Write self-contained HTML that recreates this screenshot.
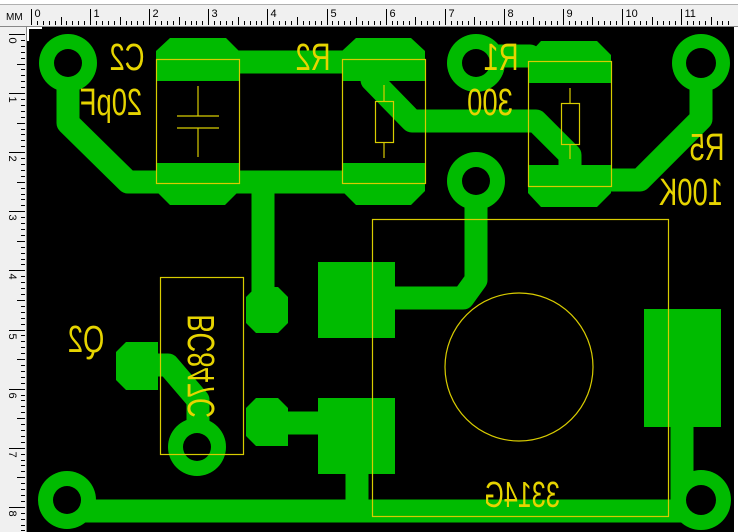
<!DOCTYPE html>
<html><head><meta charset="utf-8"><style>
html,body{margin:0;padding:0;background:#f0f0f0;}
svg{display:block;}
</style></head><body>
<svg id="s" width="738" height="532" viewBox="0 0 738 532" xmlns="http://www.w3.org/2000/svg" font-family="Liberation Sans, sans-serif">
<rect x="0" y="0" width="738" height="532" fill="#f0f0f0"/>
<rect x="0" y="0" width="738" height="4" fill="#ffffff"/>
<line x1="0" y1="4.5" x2="738" y2="4.5" stroke="#b0b0b0"/>
<line x1="0" y1="26.5" x2="738" y2="26.5" stroke="#888"/>
<line x1="26.5" y1="27" x2="26.5" y2="532" stroke="#888"/>
<text x="6" y="20" font-size="10" fill="#000">MM</text>
<g id="ticks" stroke="#000" stroke-width="1"></g>
<g id="rl" font-size="11" fill="#000"></g>
<!-- board -->
<rect x="27" y="27" width="707" height="505" fill="#000"/>
<rect x="734" y="27" width="4" height="505" fill="#fff"/>
<path d="M28 41 V28 H42" stroke="#fff" stroke-width="2" fill="none"/>
<g fill="#00bb00" stroke="none">
 <g stroke="#00bb00" stroke-width="23" fill="none" stroke-linejoin="round" stroke-linecap="round">
  <polyline points="68,63 68,123 128,182 400,182"/>
  <line x1="238" y1="62" x2="342" y2="62"/>
  <line x1="263" y1="182" x2="263" y2="300"/>
  <polyline points="372,80 412,121 536,121 570,155 570,176"/>
  <line x1="476" y1="56" x2="530" y2="56"/>
  <polyline points="600,180 640,180 701,119 701,63"/>
  <polyline points="476,181 476,280 463,298 395,298"/>
  <line x1="280" y1="423" x2="330" y2="423"/>
  <polyline points="150,365 168,365 198,400 198,447"/>
  <line x1="67" y1="511" x2="700" y2="511"/>
  <line x1="357" y1="474" x2="357" y2="505"/>
  <line x1="682" y1="427" x2="682" y2="500"/>
 </g>
 <circle cx="68" cy="63" r="29"/>
 <circle cx="476" cy="63" r="29"/>
 <circle cx="701" cy="63" r="29"/>
 <circle cx="476" cy="181" r="29"/>
 <circle cx="197" cy="447" r="29"/>
 <circle cx="67" cy="500" r="29"/>
 <circle cx="701" cy="500" r="30"/>
 <polygon points="170,38 226,38 239,51 239,81 156,81 156,51"/>
 <polygon points="156,163 239,163 239,191 225,205 170,205 156,191"/>
 <polygon points="356,38 411,38 425,51 425,81 342,81 342,51"/>
 <polygon points="342,163 425,163 425,191 411,205 356,205 342,191"/>
 <polygon points="541,41 597,41 611,55 611,83 528,83 528,55"/>
 <polygon points="528,165 611,165 611,193 597,207 541,207 528,193"/>
 <polygon points="256,287 278,287 288,297 288,323 278,333 256,333 246,323 246,297"/>
 <polygon points="126,342 158,342 158,390 126,390 116,380 116,352"/>
 <polygon points="256,398 278,398 288,408 288,446 256,446 246,436 246,408"/>
 <rect x="318" y="262" width="77" height="76"/>
 <rect x="318" y="398" width="77" height="76"/>
 <rect x="644" y="309" width="77" height="118"/>
</g>
<g fill="#000">
 <circle cx="68" cy="63" r="14"/>
 <circle cx="476" cy="63" r="14"/>
 <circle cx="701" cy="63" r="15"/>
 <circle cx="476" cy="181" r="14"/>
 <circle cx="197" cy="447" r="14"/>
 <circle cx="67" cy="500" r="14"/>
 <circle cx="701" cy="500" r="15"/>
</g>
<g stroke="#d8cc00" stroke-width="1.2" fill="none">
 <rect x="156.5" y="59.5" width="83" height="124"/>
 <line x1="198" y1="86" x2="198" y2="116"/><line x1="177" y1="116" x2="219" y2="116"/>
 <line x1="177" y1="128" x2="219" y2="128"/><line x1="198" y1="128" x2="198" y2="157"/>
 <rect x="342.5" y="59.5" width="83" height="124"/>
 <line x1="384" y1="85" x2="384" y2="101"/><rect x="375.5" y="101.5" width="18" height="41"/><line x1="384" y1="142" x2="384" y2="158"/>
 <rect x="528.5" y="61.5" width="83" height="125"/>
 <line x1="570" y1="88" x2="570" y2="103"/><rect x="561.5" y="103.5" width="18" height="41"/><line x1="570" y1="144" x2="570" y2="159"/>
 <rect x="160.5" y="277.5" width="83" height="177"/>
 <rect x="372.5" y="219.5" width="296" height="297"/>
 <circle cx="519" cy="367" r="74"/>
</g>
<g fill="#e6d400" font-size="38" text-anchor="middle">
 <text transform="translate(127,70) scale(-0.72,1)">C2</text>
 <text transform="translate(111,115) scale(-0.72,1)">20pF</text>
 <text transform="translate(313,70) scale(-0.72,1)">R2</text>
 <text transform="translate(501,70) scale(-0.72,1)">R1</text>
 <text transform="translate(490,115) scale(-0.72,1)">300</text>
 <text transform="translate(707,160) scale(-0.72,1)">R5</text>
 <text transform="translate(691,205) scale(-0.72,1)">100K</text>
 <text transform="translate(86,352) scale(-0.72,1)">Q2</text>
 <text transform="translate(522,507) scale(-0.7,1)" font-size="36">3314G</text>
 <text transform="translate(214,366) rotate(90) scale(0.72,-1)">BC847C</text>
</g>
<script>
var ns="http://www.w3.org/2000/svg",t=document.getElementById("ticks"),r=document.getElementById("rl");
function L(a,b,c,d){var l=document.createElementNS(ns,"line");l.setAttribute("x1",a);l.setAttribute("y1",b);l.setAttribute("x2",c);l.setAttribute("y2",d);t.appendChild(l);}
for(var i=0;i<=120;i++){var x=Math.round(31+i*5.91)+0.5;if(x>734)break;var h=i%10==0?16:(i%5==0?8:4);L(x,25,x,25-h);
 if(i%10==0){var e=document.createElementNS(ns,"text");e.setAttribute("x",x+3);e.setAttribute("y",17);e.textContent=i/10;r.appendChild(e);}}
for(var i=0;i<=90;i++){var y=Math.round(34+i*5.91)+0.5;if(y>532)break;var h=i%10==0?16:(i%5==0?8:4);L(25,y,25-h,y);
 if(i%10==0){var e=document.createElementNS(ns,"text");e.setAttribute("transform","translate(9,"+(y+3)+") rotate(90)");e.textContent=i/10;r.appendChild(e);}}
</script>
</svg>
</body></html>
